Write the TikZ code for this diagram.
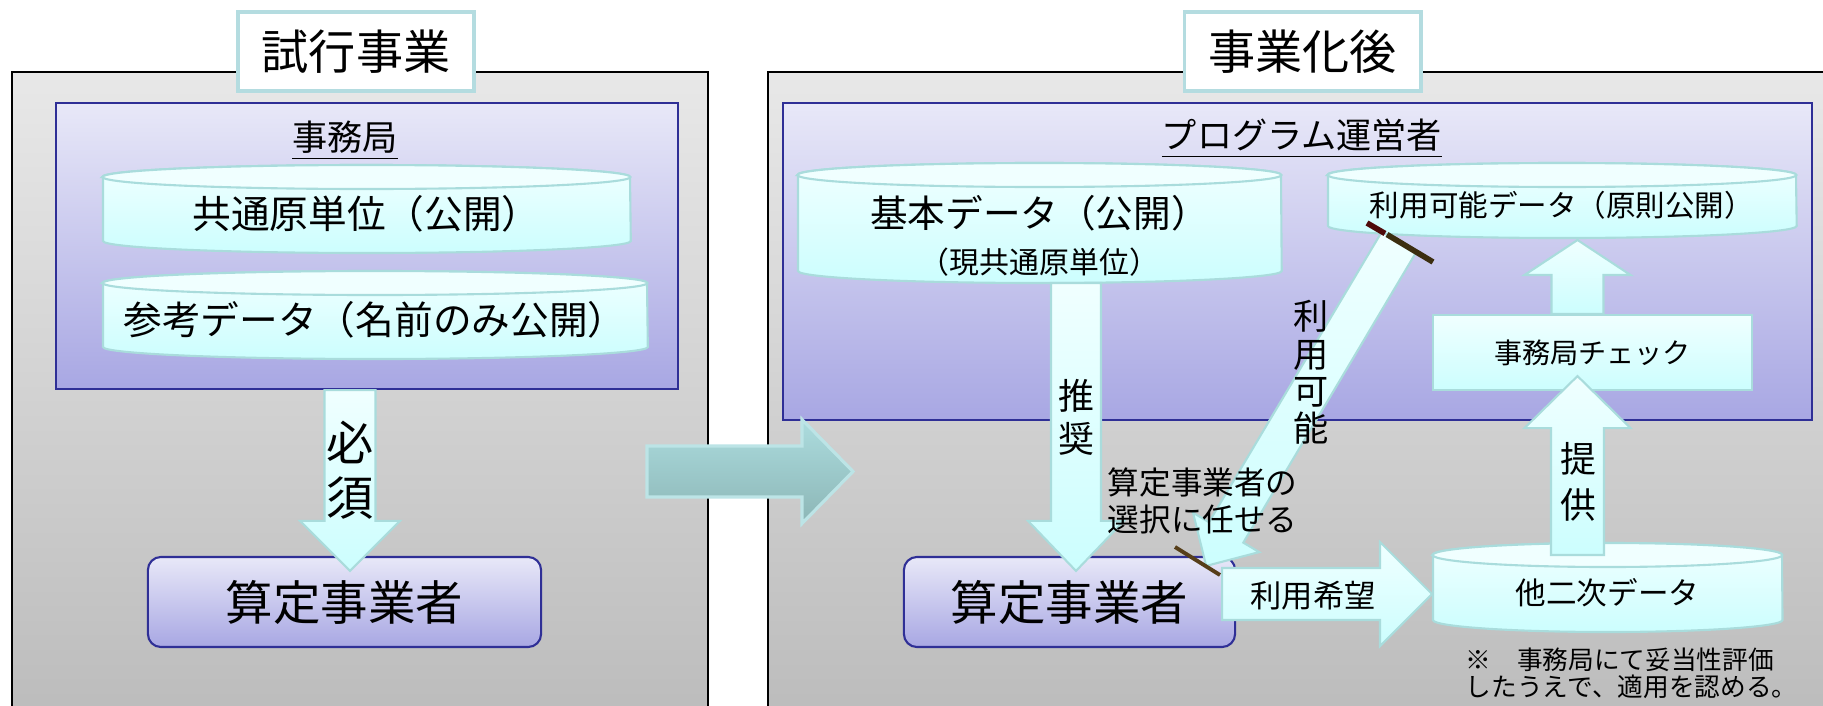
\documentclass[tikz,border=0pt]{standalone}
\usepackage{fontspec}
\setmainfont{Noto Sans CJK JP}
\usetikzlibrary{positioning,calc}

\definecolor{panelTop}{HTML}{E8E8E8}
\definecolor{panelBot}{HTML}{BBBBBB}
\definecolor{lavTop}{HTML}{E8E8F8}
\definecolor{lavBot}{HTML}{A8A7E3}
\definecolor{navy}{HTML}{2F2F96}
\definecolor{aquaTop}{HTML}{F0FFFF}
\definecolor{aquaBot}{HTML}{CCFEFE}
\definecolor{aquaLine}{HTML}{A9DCDC}
\definecolor{ttlLine}{HTML}{B4DCE0}
\definecolor{tealTop}{HTML}{ACDCDE}
\definecolor{tealBot}{HTML}{8CB6B6}
\definecolor{tealLine}{HTML}{BCE4E6}
\definecolor{cutDark}{HTML}{3C2E10}
\definecolor{cutRed}{HTML}{4E0A0A}

\tikzset{
	panel/.style={draw=black, line width=0.6pt, top color=panelTop, bottom color=panelBot},
	inbox/.style={draw=navy, line width=0.6pt, top color=lavTop, bottom color=lavBot, inner sep=0pt},
	ttlbox/.style={draw=ttlLine, line width=1.1pt, fill=white, minimum width=2.36cm, minimum height=0.79cm, font=\fontsize{13.4}{16}\selectfont},
	lbl/.style={inner sep=0pt, font=\fontsize{10}{12}\selectfont},
	cylbody/.style={draw=aquaLine, line width=0.6pt, top color=aquaTop, bottom color=aquaBot},
	cyltop/.style={draw=aquaLine, line width=0.6pt, fill=aquaTop},
	actor/.style={draw=navy, line width=0.6pt, rounded corners=0.13cm, top color=lavTop, bottom color=lavBot, minimum height=0.9cm, font=\fontsize{13.5}{16}\selectfont},
	checkbox/.style={draw=aquaLine, line width=0.6pt, top color=aquaTop, bottom color=aquaBot, minimum width=3.19cm, minimum height=0.75cm, font=\fontsize{8}{10}\selectfont},
	blockarr/.style={draw=aquaLine, line width=0.6pt, top color=aquaTop, bottom color=aquaBot},
	shiftarr/.style={draw=tealLine, line width=0.9pt, top color=tealTop, bottom color=tealBot},
	vtext/.style={align=center, inner sep=0pt},
	cutmark/.style={line width=1.6pt, cutDark},
}

% database drum: [text options]{name}{left}{top}{right}{bottom}{text}
\newcommand\dbcyl[7][]{%
	\path[cylbody] (#3,#4+12) -- (#3,#6-12)
		arc[start angle=180, end angle=360, x radius={(#5-#3)*0.005cm}, y radius=0.12cm]
		-- (#5,#4+12)
		arc[start angle=0, end angle=180, x radius={(#5-#3)*0.005cm}, y radius=0.12cm] -- cycle;
	\path[cyltop] ({(#3+#5)/2},#4+12) ellipse[x radius={(#5-#3)*0.005cm}, y radius=0.12cm];
	\coordinate (#2-t) at ({(#3+#5)/2},#4);
	\coordinate (#2-b) at ({(#3+#5)/2},#6);
	\coordinate (#2-l) at (#3,{(#4+#6)/2});
	\node[#1] (#2) at ({(#3+#5)/2},{(#4+#6)/2+5}) {#7};}

% fat arrow: [style]{from}{to}{shaft half width}{head half width}{head length}
\newcommand\blockarrow[6][]{%
	\coordinate (ba-s) at (#2);
	\coordinate (ba-e) at (#3);
	\coordinate (ba-h) at ($(ba-e)!#6!(ba-s)$);
	\path[blockarr,#1] ($(ba-s)!#4!90:(ba-e)$) -- ($(ba-h)!#4!-90:(ba-s)$)
		-- ($(ba-h)!#5!-90:(ba-s)$) -- (ba-e) -- ($(ba-h)!#5!90:(ba-s)$)
		-- ($(ba-h)!#4!90:(ba-s)$) -- ($(ba-s)!#4!-90:(ba-e)$) -- cycle;}

\begin{document}
\begin{tikzpicture}[x=0.01cm, y=-0.01cm]
	\useasboundingbox (0,0) rectangle (1823,706);

	% the two phases
	\draw[panel] (12,72) rectangle (708,730);
	\draw[panel] (768,72) rectangle (1840,730);
	\coordinate (trial) at (708,471.5);
	\coordinate (after) at (768,471.5);
	\node[ttlbox] (trial-t) at (356,51.5) {試行事業};
	\node[ttlbox] (after-t) at (1302.5,51.5) {事業化後};

	% operators
	\node[inbox, minimum width=6.22cm, minimum height=2.86cm] (jimu) at (367,246) {};
	\node[lbl] (jimu-t) at (345,141) {\underline{事務局}};
	\node[inbox, minimum width=10.29cm, minimum height=3.17cm] (unei) at (1297.5,261.5) {};
	\node[lbl] (unei-t) at (1302,139) {\underline{プログラム運営者}};

	% data
	\dbcyl[font=\fontsize{11}{13}\selectfont]{kyotsu}{103}{165}{630}{253}{共通原単位（公開）}
	\dbcyl[font=\fontsize{11}{13}\selectfont]{sanko}{103}{271}{647}{359}{参考データ（名前のみ公開）}
	\dbcyl[align=center, font=\fontsize{10.7}{13}\selectfont, yshift=-0.08cm]{kihon}{798}{163}{1281}{283}{基本データ（公開）\\{\fontsize{8.5}{13}\selectfont （現共通原単位）}}
	\dbcyl[font=\fontsize{8.4}{10}\selectfont]{riyo}{1328}{163}{1796}{238}{利用可能データ（原則公開）}
	\dbcyl[font=\fontsize{8.7}{10}\selectfont]{tani}{1433}{543}{1782}{632}{他二次データ}

	\node[actor, minimum width=3.93cm] (sanL) at (344.5,602) {算定事業者};
	\node[actor, minimum width=3.31cm] (sanR) at (1069.5,602) {算定事業者};
	\node[checkbox] (check) at (1592.5,352.5) {事務局チェック};

	% flows
	\blockarrow{$(jimu.south)+(-17,0)$}{$(sanL.north)+(5.5,15)$}{0.255cm}{0.5cm}{0.5cm}
	\blockarrow{$(kihon-b)+(36.5,0)$}{$(sanR.north)+(6.5,15)$}{0.25cm}{0.48cm}{0.5cm}
	\blockarrow{$(riyo-b)+(-163,4)$}{$(sanR.north east)+(-30,10)$}{0.2cm}{0.385cm}{0.39cm}
	\blockarrow{$(tani-t)+(-30,12)$}{$(check.south)+(-15,-15)$}{0.265cm}{0.53cm}{0.52cm}
	\blockarrow{$(check.north)+(-15,0)$}{$(riyo-b)+(15.5,2)$}{0.26cm}{0.53cm}{0.35cm}
	\blockarrow{$(sanR.east)+(-14,-8)$}{$(tani-l)+(-1,6.5)$}{0.26cm}{0.52cm}{0.52cm}
	\blockarrow[shiftarr]{$(trial)+(-61,0)$}{$(after)+(85,0)$}{0.255cm}{0.52cm}{0.51cm}

	\draw[cutmark, cutRed] (1367,223) -- (1385,233.5);
	\draw[cutmark] (1387,234.5) -- (1433,262);
	\draw[cutmark, line width=1.1pt, cutDark!80!brown] (1175,547) -- (1220,575);

	% labels
	\node[vtext, font=\fontsize{13.4}{15.6}\selectfont] (hissu) at (350,470.5) {必\\須};
	\node[vtext, font=\fontsize{10.2}{12.2}\selectfont] (suisho) at (1076,417.5) {推\\奨};
	\node[vtext, font=\fontsize{10}{10.6}\selectfont] (kanou) at (1311,372.5) {利\\用\\可\\能};
	\node[vtext, font=\fontsize{10.2}{13.1}\selectfont] (teikyo) at (1578,482) {提\\供};
	\node[vtext, align=left, anchor=west, font=\fontsize{9}{10.5}\selectfont] (sentaku) at (1107,500.5) {算定事業者の\\選択に任せる};
	\node[font=\fontsize{8.9}{10}\selectfont] (kibo) at (1313,596) {利用希望};
	\node[vtext, align=left, anchor=west, font=\fontsize{7.3}{7.7}\selectfont] (chui) at (1465,673.5) {※　事務局にて妥当性評価\\したうえで、適用を認める。};
\end{tikzpicture}
\end{document}
